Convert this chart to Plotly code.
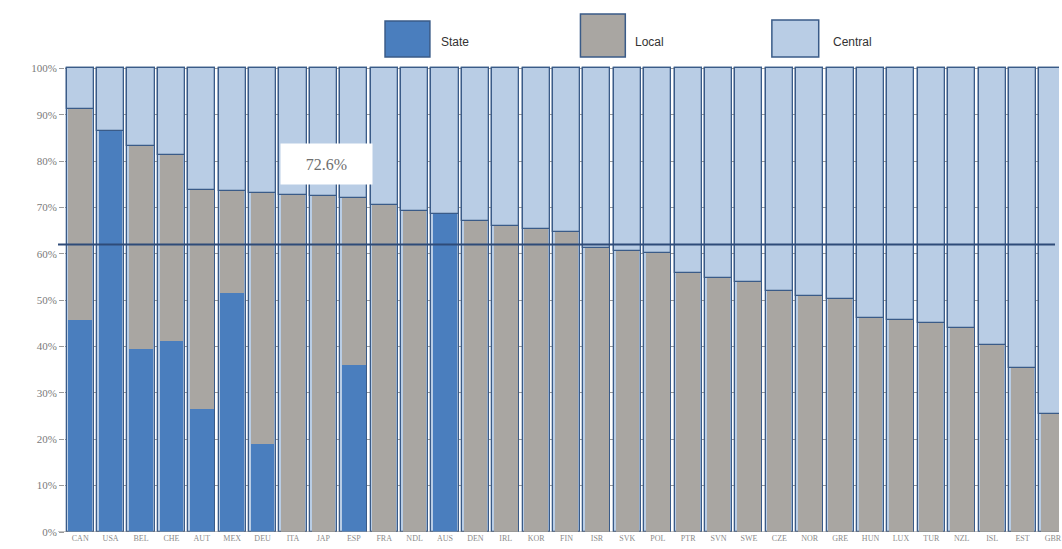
import plotly.graph_objects as go

countries = ["CAN", "USA", "BEL", "CHE", "AUT", "MEX", "DEU", "ITA", "JAP", "ESP",
             "FRA", "NDL", "AUS", "DEN", "IRL", "KOR", "FIN", "ISR", "SVK", "POL",
             "PTR", "SVN", "SWE", "CZE", "NOR", "GRE", "HUN", "LUX", "TUR", "NZL",
             "ISL", "EST", "GBR"]
state = [45.7, 86.5, 39.5, 41.2, 26.6, 51.6, 19.0, 0, 0, 36.0,
         0, 0, 68.5, 0, 0, 0, 0, 0, 0, 0,
         0, 0, 0, 0, 0, 0, 0, 0, 0, 0,
         0, 0, 0]
local = [45.5, 0, 43.8, 40.2, 47.1, 22.0, 54.2, 72.6, 72.4, 36.0,
         70.6, 69.3, 0, 67.1, 65.9, 65.3, 64.7, 61.3, 60.7, 60.2,
         55.8, 54.7, 53.9, 51.9, 50.8, 50.3, 46.2, 45.8, 45.0, 43.9,
         40.3, 35.4, 25.5]
central = [round(100 - s - l, 1) for s, l in zip(state, local)]
average = 62.0
ita_label = "72.6%"
ytick_vals = list(range(0, 101, 10))
ytick_text = [f"{v}%" for v in ytick_vals]

C_STATE = "#4a7ebe"
C_LOCAL = "#a9a6a2"
C_CENTRAL = "#b9cde5"
C_EDGE = "#3a5b88"

W, H = 1062, 549
ML, MR, MT, MB = 65, 0, 66, 17
PW, PH = W - ML - MR, H - MT - MB


def px(x):
    return (x - ML) / PW


def py(y):
    return (H - MB - y) / PH


totals = [s + l + c for s, l, c in zip(state, local, central)]
top_base = [s + l for s, l in zip(state, local)]

fig = go.Figure()
fig.add_trace(go.Bar(x=countries, y=totals, base=0, width=0.89,
                     marker=dict(color=C_CENTRAL, line=dict(color=C_EDGE, width=1.3)),
                     showlegend=False, hoverinfo="skip"))
fig.add_trace(go.Bar(x=countries, y=state, base=0, width=0.78, name="State",
                     marker=dict(color=C_STATE, line=dict(width=0)), showlegend=False))
fig.add_trace(go.Bar(x=countries, y=local, base=state, width=0.78, name="Local",
                     marker=dict(color=C_LOCAL, line=dict(width=0)), showlegend=False))
fig.add_trace(go.Bar(x=countries, y=central, base=top_base, width=0.89, name="Central",
                     marker=dict(color=C_CENTRAL, line=dict(color=C_EDGE, width=1.3)),
                     showlegend=False))

shapes = []
shapes.append(dict(type="line", xref="paper", yref="y", x0=px(58), x1=px(1058),
                   y0=average, y1=average, line=dict(color="#2e4b78", width=2), layer="above"))
shapes.append(dict(type="line", xref="paper", yref="y", x0=px(58), x1=1,
                   y0=0, y1=0, line=dict(color="#8c8c8c", width=1.2), layer="above"))

legend_items = [("State", C_STATE, 386, 431, 21, 57, 440),
                ("Local", C_LOCAL, 582, 627, 14, 57, 635),
                ("Central", C_CENTRAL, 774, 821, 20, 57, 833)]
annotations = []
for name, col, x0, x1, y0, y1, tx in legend_items:
    shapes.append(dict(type="rect", xref="paper", yref="paper",
                       x0=px(x0), x1=px(x1), y0=py(y1), y1=py(y0),
                       fillcolor=col, line=dict(color=C_EDGE, width=1.5)))
    annotations.append(dict(xref="paper", yref="paper", x=px(tx), y=py(42),
                            xanchor="left", yanchor="middle", text=name, showarrow=False,
                            font=dict(family="Liberation Sans", size=12, color="#333333")))

annotations.append(dict(xref="x", yref="y", x=8.1, y=79.3, text=ita_label, showarrow=False,
                        bgcolor="white", width=89, height=38, xanchor="center", yanchor="middle",
                        font=dict(family="Liberation Serif", size=16, color="#6e6e6e")))

fig.update_layout(
    width=W, height=H,
    margin=dict(l=ML, r=MR, t=MT, b=MB),
    barmode="overlay",
    bargap=0,
    plot_bgcolor="white",
    paper_bgcolor="white",
    shapes=shapes,
    annotations=annotations,
    showlegend=False,
)
fig.update_xaxes(type="category", range=[-0.5, 32.2], showgrid=False, showline=False,
                 ticks="", tickfont=dict(family="Liberation Serif", size=8, color="#8a8a8a"))
fig.update_yaxes(range=[0, 100.5], tickvals=ytick_vals, ticktext=ytick_text,
                 showgrid=True, gridcolor="#9a9a9a", gridwidth=1, zeroline=False,
                 showline=False, ticks="outside", ticklen=5, tickcolor="#9a9a9a",
                 tickfont=dict(family="Liberation Serif", size=11, color="#7a7a7a"))

fig.write_html("out.html")
